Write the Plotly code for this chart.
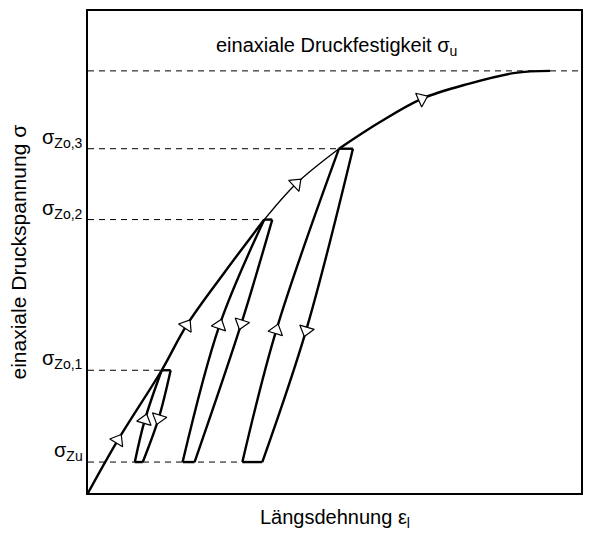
import math
import plotly.graph_objects as go

# stress levels (units = px of the frame, origin lower left)
sigma_u = 423
sigma_zo = [123, 274, 345]          # Zo,1 .. Zo,3
sigma_zu = 31
zo_labels = ["σ<sub>Zo,1</sub>", "σ<sub>Zo,2</sub>", "σ<sub>Zo,3</sub>"]

# monotonic loading curve (envelope)
env_x = [0, 30, 74, 99, 137, 177, 209, 252, 292, 335, 382, 429, 464]
env_y = [0, 53, 123, 168, 221, 274, 310, 345, 371, 395, 410, 421, 423]
env_arrow_idx = [1, 3, 6, 9]

# unloading / reloading loops
loop_peak_x = [74, 177, 252]
loop_top_right_x = [83, 185, 266]
loop_bot_right_x = [55, 107, 175]
loop_bot_left_x = [47, 95, 155]
loop_down_mid_x = [71, 154, 219]
loop_down_mid_y = [75, 170, 163]
loop_up_mid_x = [57, 132, 189]
loop_up_mid_y = [73, 168, 163]

FONT = "Liberation Sans, Arial, sans-serif"
fig = go.Figure()


def line(x, y, width=2.4, shape="spline", dash=None):
    fig.add_trace(go.Scatter(
        x=x, y=y, mode="lines",
        line=dict(color="black", width=width, shape=shape, dash=dash),
        hoverinfo="skip", showlegend=False))


arrow_x, arrow_y, arrow_ang = [], [], []


def add_arrow(xs, ys, i):
    dx = xs[i + 1] - xs[i - 1]
    dy = ys[i + 1] - ys[i - 1]
    arrow_x.append(xs[i])
    arrow_y.append(ys[i])
    arrow_ang.append(math.degrees(math.atan2(dx, dy)))


# dashed reference levels
line([0, 495], [sigma_u, sigma_u], width=1, shape="linear", dash="6px,5px")
for lvl, px in zip(sigma_zo, loop_peak_x):
    line([0, px], [lvl, lvl], width=1, shape="linear", dash="6px,5px")
line([0, max(loop_bot_right_x)], [sigma_zu, sigma_zu], width=1, shape="linear", dash="6px,5px")

# envelope: thinner between Zo,2 and Zo,3
line(env_x[:6], env_y[:6])
line(env_x[5:8], env_y[5:8], width=1.4)
line(env_x[7:], env_y[7:])
for i in env_arrow_idx:
    add_arrow(env_x, env_y, i)

# loops
for k in range(3):
    top = sigma_zo[k]
    line([loop_peak_x[k], loop_top_right_x[k]], [top, top], shape="linear")
    dx = [loop_top_right_x[k], loop_down_mid_x[k], loop_bot_right_x[k]]
    dy = [top, loop_down_mid_y[k], sigma_zu]
    line(dx, dy)
    line([loop_bot_right_x[k], loop_bot_left_x[k]], [sigma_zu, sigma_zu], shape="linear")
    ux = [loop_bot_left_x[k], loop_up_mid_x[k], loop_peak_x[k]]
    uy = [sigma_zu, loop_up_mid_y[k], top]
    line(ux, uy)
    add_arrow(dx, dy, 1)
    add_arrow(ux, uy, 1)

fig.add_trace(go.Scatter(
    x=arrow_x, y=arrow_y, mode="markers",
    marker=dict(symbol="triangle-up", size=13, angle=arrow_ang, color="white",
                line=dict(color="black", width=1.2)),
    hoverinfo="skip", showlegend=False))

# labels on the left of the frame
for lvl, txt in zip(sigma_zo + [sigma_zu], zo_labels + ["σ<sub>Zu</sub>"]):
    fig.add_annotation(xref="paper", x=-0.006, y=lvl, text=txt, showarrow=False,
                       xanchor="right", yanchor="bottom", yshift=-4,
                       font=dict(size=20, family=FONT, color="black"))

fig.add_annotation(x=250, y=sigma_u, yshift=10, text="einaxiale Druckfestigkeit σ<sub>u</sub>",
                   showarrow=False, yanchor="bottom", font=dict(size=20, family=FONT, color="black"))
fig.add_annotation(xref="paper", yref="paper", x=0.5, y=-0.053, yanchor="middle",
                   text="Längsdehnung ε<sub>l</sub>", showarrow=False,
                   font=dict(size=20, family=FONT, color="black"))
fig.add_annotation(xref="paper", yref="paper", x=-0.143, y=0.5, xanchor="center",
                   yanchor="middle", textangle=-90,
                   text="einaxiale Druckspannung σ", showarrow=False,
                   font=dict(size=21, family=FONT, color="black"))

axis = dict(showline=True, mirror=True, linecolor="black", linewidth=2,
            showgrid=False, zeroline=False, showticklabels=False, ticks="")
fig.update_layout(
    width=592, height=533,
    margin=dict(l=88, r=9, t=10, b=40),
    plot_bgcolor="white", paper_bgcolor="white",
    xaxis=dict(range=[0, 495], **axis),
    yaxis=dict(range=[0, 483], **axis),
)

# drop the default 8px body margin so the figure fills the window
fig.write_html("out.html", config={"displayModeBar": False},
               post_script="document.body.style.margin='0';")
